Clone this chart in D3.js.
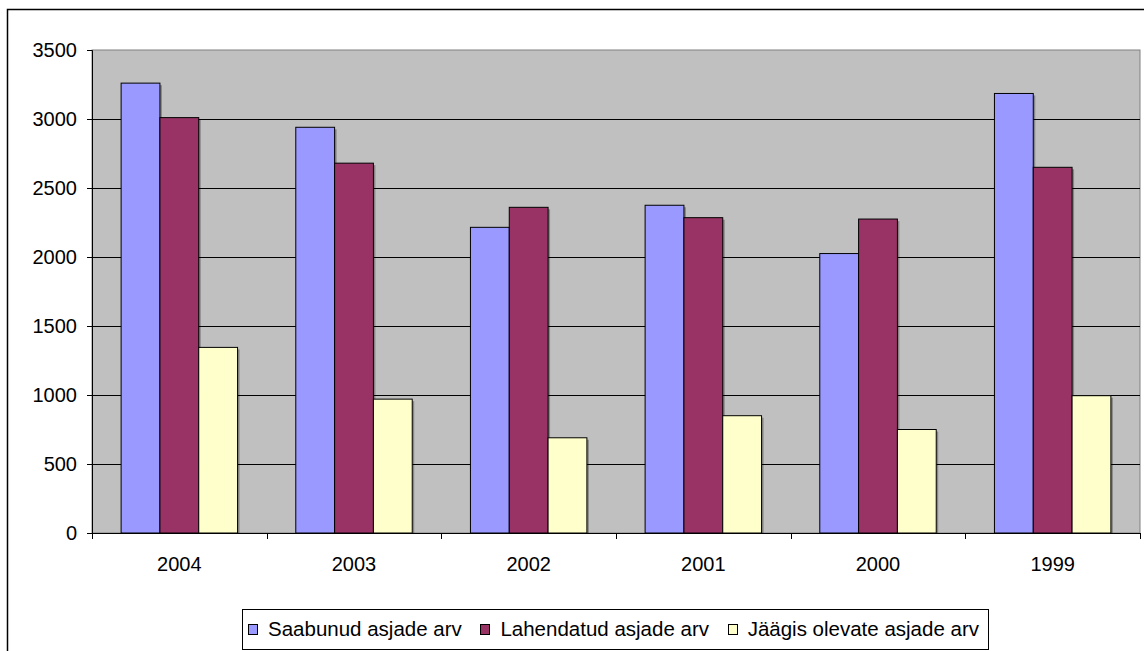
<!DOCTYPE html>
<html>
<head>
<meta charset="utf-8">
<script src="https://cdn.jsdelivr.net/npm/d3@7"></script>
<style>
html,body{margin:0;padding:0;background:#fff;}
svg{display:block;}
text{font-family:"Liberation Sans",Arial,sans-serif;fill:#000;}
</style>
</head>
<body>
<svg id="chart" width="1144" height="651"></svg>
<script>
const categories = ["2004","2003","2002","2001","2000","1999"];
const seriesNames = ["Saabunud asjade arv","Lahendatud asjade arv","Jäägis olevate asjade arv"];
const saabunud   = [3260, 2940, 2215, 2375, 2025, 3185];
const lahendatud = [3010, 2680, 2360, 2285, 2275, 2650];
const jaagis     = [1345,  970,  690,  850,  750,  995];
const yTicks = [0, 500, 1000, 1500, 2000, 2500, 3000, 3500];
const colors = ["#9999FF", "#993366", "#FFFFCC"];

const seriesValues = [saabunud, lahendatud, jaagis];
const data = categories.map((c, i) => ({cat: c, vals: seriesValues.map((s, k) => ({k, v: s[i]}))}));

const svg = d3.select("#chart");
const plot = {left: 92, right: 1140, top: 50, bottom: 533};
const FS = 20;

// outer chart frame
svg.append("rect").attr("x", 7.5).attr("y", 9.5).attr("width", 1160).attr("height", 660)
  .attr("fill", "none").attr("stroke", "#000").attr("stroke-width", 1.5);

const x = d3.scaleBand().domain(categories).range([plot.left, plot.right]).paddingInner(0).paddingOuter(0);
const xs = d3.scaleBand().domain([0,1,2]).range([0, x.bandwidth()]).paddingInner(0).paddingOuter(0.75);
const y = d3.scaleLinear().domain([0, 3500]).range([plot.bottom, plot.top]);

// plot area
svg.append("rect").attr("x", plot.left).attr("y", plot.top)
  .attr("width", plot.right - plot.left).attr("height", plot.bottom - plot.top)
  .attr("fill", "#C0C0C0").attr("stroke", "#808080").attr("stroke-width", 1);

// gridlines
svg.append("g").selectAll("line").data(yTicks.filter(t => t > 0 && t < 3500)).join("line")
  .attr("x1", plot.left).attr("x2", plot.right)
  .attr("y1", d => Math.round(y(d)) + 0.5).attr("y2", d => Math.round(y(d)) + 0.5)
  .attr("stroke", "#000").attr("stroke-width", 1);

// bars
const groups = svg.append("g").selectAll("g").data(data).join("g")
  .attr("transform", d => `translate(${x(d.cat)},0)`);
groups.selectAll("rect.shadow").data(d => d.vals).join("rect").attr("class", "shadow")
  .attr("x", d => xs(d.k) + 2).attr("y", d => y(d.v) + 2)
  .attr("width", xs.bandwidth()).attr("height", d => plot.bottom - y(d.v) - 2)
  .attr("fill", "#000").attr("opacity", 0.3);
groups.selectAll("rect.bar").data(d => d.vals).join("rect").attr("class", "bar")
  .attr("x", d => xs(d.k)).attr("y", d => y(d.v))
  .attr("width", xs.bandwidth()).attr("height", d => plot.bottom - y(d.v))
  .attr("fill", d => colors[d.k]).attr("stroke", "#000").attr("stroke-width", 1);

// y axis
const yAxis = d3.axisLeft(y).tickValues(yTicks).tickSize(5).tickPadding(10).tickFormat(d3.format("d"));
const gy = svg.append("g").attr("transform", `translate(${plot.left},0)`).call(yAxis);
gy.select(".domain").attr("stroke", "#000");
gy.selectAll(".tick line").attr("stroke", "#000");
gy.selectAll(".tick text").attr("font-size", FS).attr("font-family", "Liberation Sans, Arial, sans-serif").attr("fill", "#000");

// x axis
const xAxis = d3.axisBottom(x).tickSize(0).tickPadding(24);
const gx = svg.append("g").attr("transform", `translate(0,${plot.bottom})`).call(xAxis);
gx.select(".domain").attr("stroke", "#000");
gx.selectAll(".tick text").attr("font-size", FS).attr("font-family", "Liberation Sans, Arial, sans-serif").attr("fill", "#000");
const bounds = categories.map(c => x(c)).concat([plot.right]);
gx.append("g").selectAll("line").data(bounds).join("line")
  .attr("x1", d => Math.round(d) + 0.5).attr("x2", d => Math.round(d) + 0.5)
  .attr("y1", 0).attr("y2", 6).attr("stroke", "#000");

// legend
const legend = svg.append("g");
legend.append("rect").attr("x", 242.5).attr("y", 609.5).attr("width", 746).attr("height", 40)
  .attr("fill", "#fff").attr("stroke", "#000").attr("stroke-width", 1);
const LFS = 20.5;
const texts = seriesNames.map(n => legend.append("text").attr("y", 636).attr("font-size", LFS).text(n));
const widths = texts.map(t => t.node().getComputedTextLength());
const start = 248, end = 979, sq = 20;
const gap = (end - start - 3 * sq - d3.sum(widths)) / 2;
let cx = start;
seriesNames.forEach((n, k) => {
  legend.append("rect").attr("x", Math.round(cx) + 0.5).attr("y", 624.5).attr("width", 9).attr("height", 10)
    .attr("fill", colors[k]).attr("stroke", "#000").attr("stroke-width", 1);
  texts[k].attr("x", cx + sq);
  cx += sq + widths[k] + gap;
});
</script>
</body>
</html>
